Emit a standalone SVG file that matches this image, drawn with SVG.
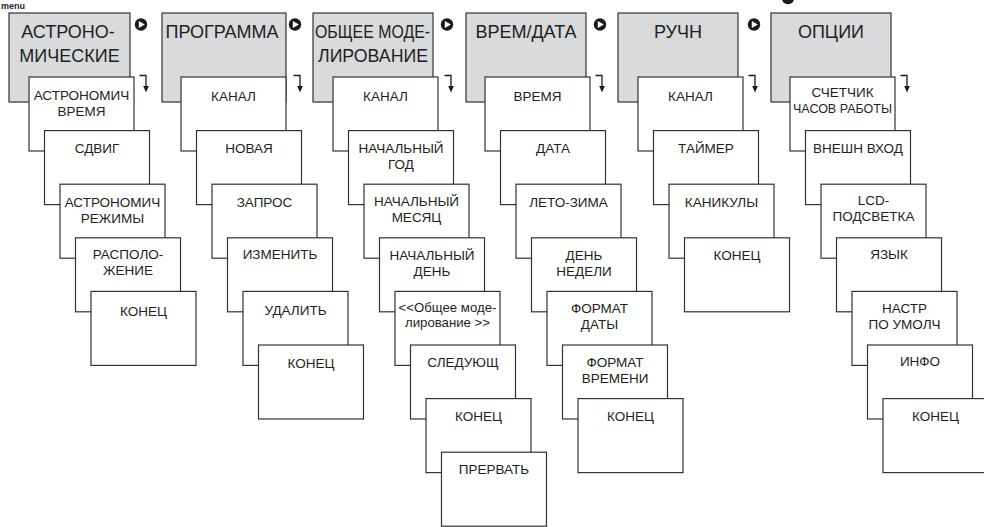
<svg xmlns="http://www.w3.org/2000/svg" width="984" height="527" viewBox="0 0 984 527">
<defs>
<style>
.g{fill:#d9dadc;stroke:#333333;stroke-width:1.2}
.w{fill:#ffffff;stroke:#333333;stroke-width:1.2}
text{font-family:"Liberation Sans",Arial,Helvetica,sans-serif;fill:#231f20;text-anchor:middle}
.h{font-size:18px}
.t{font-size:13.5px}
.s{font-size:13.2px}
.ic{fill:#1a1a1a}
.tri{fill:#ffffff}
.dn{fill:none;stroke:#1a1a1a;stroke-width:1.3}
</style>
<marker id="ah" viewBox="0 0 7 6" refX="0.5" refY="3" markerWidth="7" markerHeight="6" markerUnits="userSpaceOnUse" orient="auto">
<path d="M0,0 L7,3 L0,6 z" fill="#1a1a1a"/>
</marker>
</defs>
<rect width="984" height="527" fill="#ffffff"/>
<text x="1" y="9" style="font-size:9px;font-weight:bold;text-anchor:start">menu</text>

<!-- Column 1 -->
<g id="astro">
<rect class="g" x="9" y="13" width="121" height="89"/>
<text class="h" x="68" y="38">АСТРОНО-</text>
<text class="h" x="69.5" y="61.5">МИЧЕСКИЕ</text>
</g>
<g id="astro-time"><rect class="w" x="29" y="77" width="105" height="74"/><text class="t" x="81.5" y="99.5">АСТРОНОМИЧ</text><text class="t" x="81.5" y="115.5">ВРЕМЯ</text></g>
<g id="astro-shift"><rect class="w" x="44.5" y="130.6" width="105" height="74"/><text class="t" x="97" y="153">СДВИГ</text></g>
<g id="astro-modes"><rect class="w" x="60" y="184.2" width="105" height="74"/><text class="t" x="112.5" y="206.5">АСТРОНОМИЧ</text><text class="t" x="112.5" y="222.5">РЕЖИМЫ</text></g>
<g id="astro-location"><rect class="w" x="75.5" y="237.8" width="105" height="74"/><text class="t" x="128" y="259">РАСПОЛО-</text><text class="t" x="128" y="275">ЖЕНИЕ</text></g>
<g id="astro-end"><rect class="w" x="91" y="291.4" width="105" height="74"/><text class="t" x="143.5" y="315.6">КОНЕЦ</text></g>

<!-- Column 2 -->
<g id="program">
<rect class="g" x="162" y="13" width="124" height="89"/>
<text class="h" x="222" y="38">ПРОГРАММА</text>
</g>
<g id="prog-channel"><rect class="w" x="181" y="77" width="105" height="74"/><text class="t" x="233.5" y="100.5">КАНАЛ</text></g>
<g id="prog-new"><rect class="w" x="196.5" y="130.6" width="105" height="74"/><text class="t" x="249" y="153.3">НОВАЯ</text></g>
<g id="prog-query"><rect class="w" x="212" y="184.2" width="105" height="74"/><text class="t" x="264.5" y="206.5">ЗАПРОС</text></g>
<g id="prog-edit"><rect class="w" x="227.5" y="237.8" width="105" height="74"/><text class="t" x="280" y="258.5">ИЗМЕНИТЬ</text></g>
<g id="prog-delete"><rect class="w" x="243" y="291.4" width="105" height="74"/><text class="t" x="295.5" y="314.8">УДАЛИТЬ</text></g>
<g id="prog-end"><rect class="w" x="258.5" y="345" width="105" height="74"/><text class="t" x="311" y="367.8">КОНЕЦ</text></g>

<!-- Column 3 -->
<g id="general">
<rect class="g" x="313" y="13" width="120" height="89"/>
<text class="h" x="372.5" y="38" textLength="115" lengthAdjust="spacingAndGlyphs">ОБЩЕЕ МОДЕ-</text>
<text class="h" x="373" y="61.5" textLength="110" lengthAdjust="spacingAndGlyphs">ЛИРОВАНИЕ</text>
</g>
<g id="gen-channel"><rect class="w" x="333" y="77" width="105" height="74"/><text class="t" x="385.5" y="100.5">КАНАЛ</text></g>
<g id="gen-year"><rect class="w" x="348.5" y="130.6" width="105" height="74"/><text class="t" x="401" y="152.8">НАЧАЛЬНЫЙ</text><text class="t" x="401" y="168.8">ГОД</text></g>
<g id="gen-month"><rect class="w" x="364" y="184.2" width="105" height="74"/><text class="t" x="416.5" y="206.4">НАЧАЛЬНЫЙ</text><text class="t" x="416.5" y="222.4">МЕСЯЦ</text></g>
<g id="gen-day"><rect class="w" x="379.5" y="237.8" width="105" height="74"/><text class="t" x="432" y="260">НАЧАЛЬНЫЙ</text><text class="t" x="432" y="276">ДЕНЬ</text></g>
<g id="gen-sim"><rect class="w" x="395" y="291.4" width="105" height="74"/><text class="s" x="447.5" y="312">&lt;&lt;Общее моде-</text><text class="s" x="447.5" y="326.5">лирование &gt;&gt;</text></g>
<g id="gen-next"><rect class="w" x="410.5" y="345" width="105" height="74"/><text class="t" x="463" y="367.2">СЛЕДУЮЩ</text></g>
<g id="gen-end"><rect class="w" x="426" y="398.6" width="105" height="74"/><text class="t" x="478.5" y="420.8">КОНЕЦ</text></g>
<g id="gen-abort"><rect class="w" x="441.5" y="452.2" width="105" height="74"/><text class="t" x="494" y="474.4">ПРЕРВАТЬ</text></g>

<!-- Column 4 -->
<g id="timedate">
<rect class="g" x="466" y="13" width="120" height="89"/>
<text class="h" x="526" y="38">ВРЕМ/ДАТА</text>
</g>
<g id="td-time"><rect class="w" x="485" y="77" width="105" height="74"/><text class="t" x="537.5" y="100.5">ВРЕМЯ</text></g>
<g id="td-date"><rect class="w" x="500.5" y="130.6" width="105" height="74"/><text class="t" x="553" y="153.3">ДАТА</text></g>
<g id="td-dst"><rect class="w" x="516" y="184.2" width="105" height="74"/><text class="t" x="568.5" y="206.5">ЛЕТО-ЗИМА</text></g>
<g id="td-weekday"><rect class="w" x="531.5" y="237.8" width="105" height="74"/><text class="t" x="584" y="259.5">ДЕНЬ</text><text class="t" x="584" y="275.5">НЕДЕЛИ</text></g>
<g id="td-datefmt"><rect class="w" x="547" y="291.4" width="105" height="74"/><text class="t" x="599.5" y="313">ФОРМАТ</text><text class="t" x="599.5" y="329">ДАТЫ</text></g>
<g id="td-timefmt"><rect class="w" x="562.5" y="345" width="105" height="74"/><text class="t" x="615" y="366.7">ФОРМАТ</text><text class="t" x="615" y="382.7">ВРЕМЕНИ</text></g>
<g id="td-end"><rect class="w" x="578" y="398.6" width="105" height="74"/><text class="t" x="630.5" y="420.8">КОНЕЦ</text></g>

<!-- Column 5 -->
<g id="manual">
<rect class="g" x="618" y="13" width="120" height="89"/>
<text class="h" x="678" y="38">РУЧН</text>
</g>
<g id="man-channel"><rect class="w" x="638" y="77" width="105" height="74"/><text class="t" x="690.5" y="100.5">КАНАЛ</text></g>
<g id="man-timer"><rect class="w" x="653.5" y="130.6" width="105" height="74"/><text class="t" x="706" y="153.3">ТАЙМЕР</text></g>
<g id="man-holiday"><rect class="w" x="669" y="184.2" width="105" height="74"/><text class="t" x="721.5" y="206.5">КАНИКУЛЫ</text></g>
<g id="man-end"><rect class="w" x="684.5" y="237.8" width="105" height="74"/><text class="t" x="737" y="260.2">КОНЕЦ</text></g>

<!-- Column 6 -->
<g id="options">
<rect class="g" x="771" y="13" width="120" height="89"/>
<text class="h" x="831" y="38">ОПЦИИ</text>
</g>
<g id="opt-hours"><rect class="w" x="790" y="77" width="105" height="74"/><text class="t" x="842.5" y="96.8">СЧЕТЧИК</text><text class="t" x="842.5" y="112.6" textLength="99" lengthAdjust="spacingAndGlyphs">ЧАСОВ РАБОТЫ</text></g>
<g id="opt-input"><rect class="w" x="805.5" y="130.6" width="105" height="74"/><text class="t" x="858" y="153.3">ВНЕШН ВХОД</text></g>
<g id="opt-lcd"><rect class="w" x="821" y="184.2" width="105" height="74"/><text class="t" x="873.5" y="205">LCD-</text><text class="t" x="873.5" y="221">ПОДСВЕТКА</text></g>
<g id="opt-lang"><rect class="w" x="836.5" y="237.8" width="105" height="74"/><text class="t" x="889" y="259">ЯЗЫК</text></g>
<g id="opt-default"><rect class="w" x="852" y="291.4" width="105" height="74"/><text class="t" x="904.5" y="312.6">НАСТР</text><text class="t" x="904.5" y="328.6">ПО УМОЛЧ</text></g>
<g id="opt-info"><rect class="w" x="867.5" y="345" width="105" height="74"/><text class="t" x="920" y="366.3">ИНФО</text></g>
<g id="opt-end"><rect class="w" x="883" y="398.6" width="105" height="74"/><text class="t" x="935.5" y="420.8">КОНЕЦ</text></g>

<!-- Connectors: next-menu buttons and enter arrows -->
<g id="connectors">
<circle class="ic" cx="788" cy="-2" r="6.2"/>
<circle class="ic" cx="141" cy="24.5" r="6.2"/><path class="tri" d="M138.8,21 L138.8,28 L144.8,24.5 z"/>
<circle class="ic" cx="295" cy="24.5" r="6.2"/><path class="tri" d="M292.8,21 L292.8,28 L298.8,24.5 z"/>
<circle class="ic" cx="447" cy="24.5" r="6.2"/><path class="tri" d="M444.8,21 L444.8,28 L450.8,24.5 z"/>
<circle class="ic" cx="600" cy="24.5" r="6.2"/><path class="tri" d="M597.8,21 L597.8,28 L603.8,24.5 z"/>
<circle class="ic" cx="754" cy="24.5" r="6.2"/><path class="tri" d="M751.8,21 L751.8,28 L757.8,24.5 z"/>
<path class="dn" d="M139.5,75.5 H146 V86" marker-end="url(#ah)"/>
<path class="dn" d="M293.5,75.5 H300 V86" marker-end="url(#ah)"/>
<path class="dn" d="M444.5,75.5 H451 V86" marker-end="url(#ah)"/>
<path class="dn" d="M595.5,75.5 H602 V86" marker-end="url(#ah)"/>
<path class="dn" d="M748.5,75.5 H755 V86" marker-end="url(#ah)"/>
<path class="dn" d="M900.5,75.5 H907 V86" marker-end="url(#ah)"/>
</g>
</svg>
